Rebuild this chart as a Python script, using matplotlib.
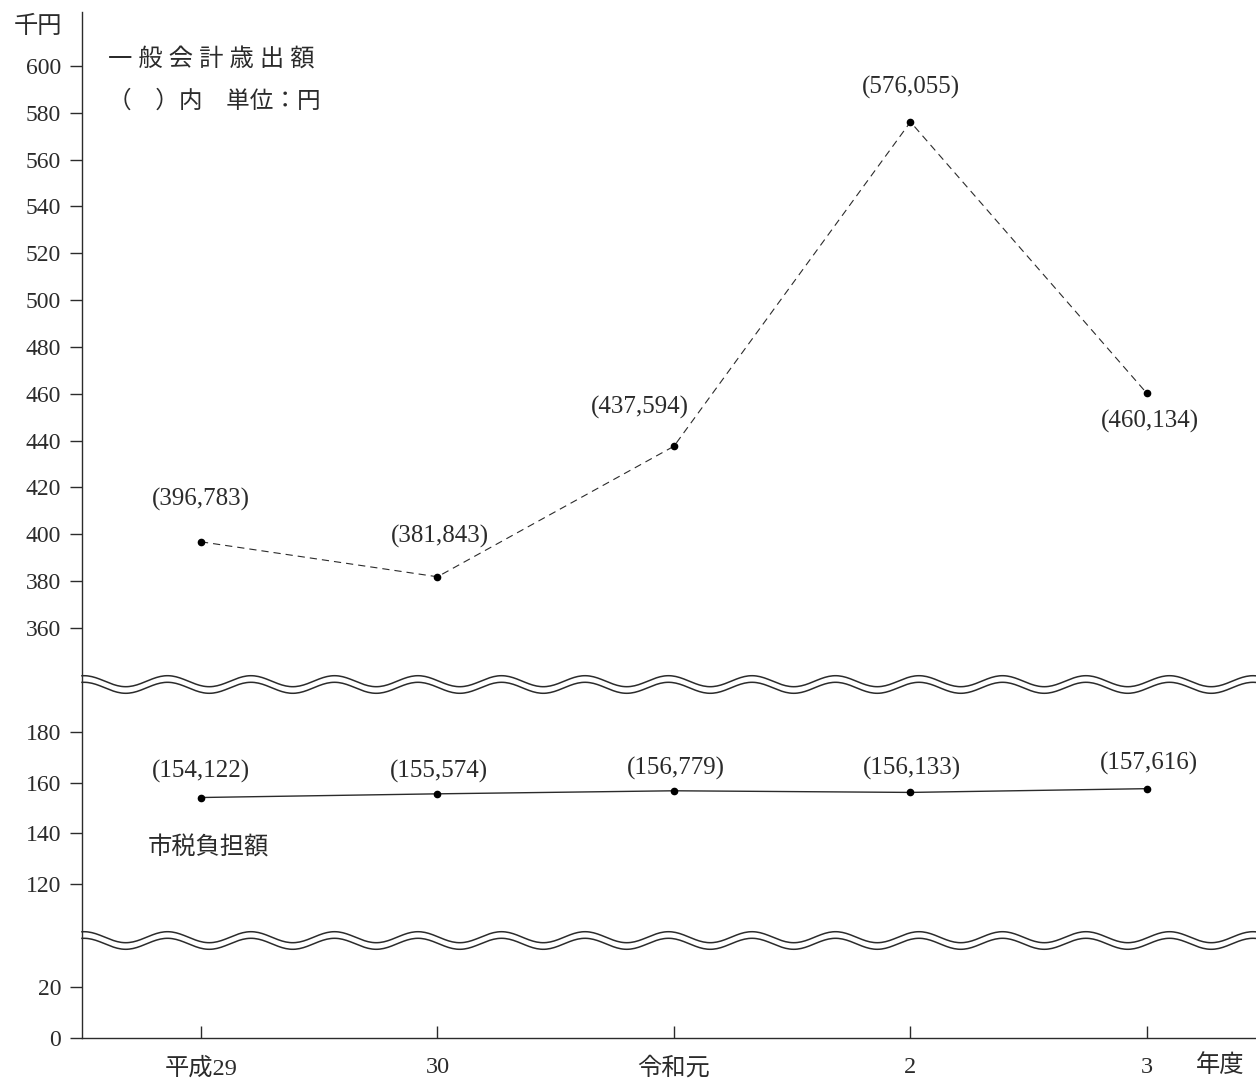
import matplotlib.pyplot as plt
import numpy as np

FONTS = ["Liberation Serif", "Noto Sans CJK JP", "DejaVu Serif"]
plt.rcParams["font.family"] = FONTS

INK = "#2b2b2b"

# data (千円)
years = ["平成29", "30", "令和元", "2", "3"]
spending = [396.783, 381.843, 437.594, 576.055, 460.134]
spending_labels = ["(396,783)", "(381,843)", "(437,594)", "(576,055)", "(460,134)"]
tax = [154.122, 155.574, 156.779, 156.133, 157.616]
tax_labels = ["(154,122)", "(155,574)", "(156,779)", "(156,133)", "(157,616)"]
y_ticks = [0, 20, 120, 140, 160, 180] + list(range(360, 601, 20))

# label offsets in pixels from the point
spend_off = [(0, 42), (2, 40), (-34, 39), (0, 34), (3, -28)]
tax_off = [(0, 26), (1, 22), (2, 22), (1, 24), (2, 25)]

# piecewise broken y scale (value -> pixel height)
v_knots = [-100, 0, 38, 98, 198, 336, 1000]
u_knots = [-255, 0, 96.9, 98.3, 351.6, 353.8, 1908.7]


def fwd(v):
    return np.interp(v, v_knots, u_knots)


def inv(u):
    return np.interp(u, u_knots, v_knots)


fig = plt.figure(figsize=(12.56, 10.79), dpi=100)
ax = fig.add_axes([82 / 1256, 41 / 1079, 1 - 82 / 1256, 1026 / 1079])
ax.set_yscale("function", functions=(fwd, inv))
ax.set_ylim(0, 623)
x = np.arange(len(years))
ax.set_xlim(-0.503, 4.461)

ax.plot(x, spending, color=INK, lw=0.8, dashes=(6.5, 4.5),
        marker="o", ms=4.5, mfc="black", mec="black")
ax.plot(x, tax, color=INK, lw=1.0, marker="o", ms=4.5, mfc="black", mec="black")

for xi, yi, lab, (dx, dy) in zip(x, spending, spending_labels, spend_off):
    ax.annotate(lab, (xi, yi), xytext=(dx, dy), textcoords="offset pixels",
                ha="center", va="center", fontsize=18, color=INK)
for xi, yi, lab, (dx, dy) in zip(x, tax, tax_labels, tax_off):
    ax.annotate(lab, (xi, yi), xytext=(dx, dy), textcoords="offset pixels",
                ha="center", va="center", fontsize=18, color=INK)

for side in ["top", "right"]:
    ax.spines[side].set_visible(False)
for side in ["left", "bottom"]:
    ax.spines[side].set_color(INK)
    ax.spines[side].set_linewidth(1.0)

ax.set_yticks(y_ticks)
ax.set_yticklabels([str(t) for t in y_ticks])
ax.tick_params(axis="y", direction="out", length=9, width=1.0, color=INK,
               labelsize=17, labelcolor=INK, pad=6)
ax.set_xticks(x)
ax.set_xticklabels(years)
ax.tick_params(axis="x", direction="in", length=9, width=1.0, color=INK,
               labelsize=17.5, labelcolor=INK, pad=14)

# wavy break marks (axes pixel units)
W, H = 1174, 1026
px = np.linspace(0, W, 600)
for center in [1038 - 684.5, 1038 - 940.5]:
    for off in (-3.3, 3.3):
        wave = center + off + 5.5 * np.cos(2 * np.pi * (px - 2) / 83.5)
        ax.plot(px / W, wave / H, transform=ax.transAxes, color=INK,
                lw=1.1, clip_on=False)

fig.text(38 / 1256, 1 - 27 / 1079, "千円", ha="center", va="center",
         fontsize=17.5, color=INK)
fig.text(108 / 1256, 1 - 60 / 1079, "一 般 会 計 歳 出 額", ha="left", va="center",
         fontsize=17.5, color=INK)
fig.text(108 / 1256, 1 - 101 / 1079, "（　）内　単位：円", ha="left", va="center",
         fontsize=17, color=INK)
fig.text(148 / 1256, 1 - 848 / 1079, "市税負担額", ha="left", va="center",
         fontsize=17.5, color=INK)
fig.text(1220 / 1256, 1 - 1066 / 1079, "年度", ha="center", va="center",
         fontsize=17.5, color=INK)

fig.savefig("out.png", dpi=100)
